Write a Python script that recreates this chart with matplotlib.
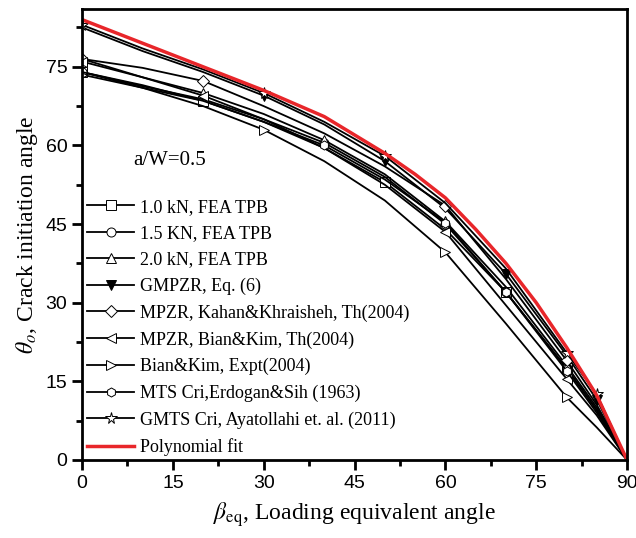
import matplotlib
matplotlib.use("Agg")
import matplotlib.pyplot as plt
from matplotlib.ticker import MultipleLocator

plt.rcParams['mathtext.fontset'] = 'stix'

# --- data ---
beta = [0, 10, 20, 30, 40, 50, 60, 70, 80, 85, 90]

theta_1kn = [74.0, 71.0, 68.5, 64.5, 59.5, 53.0, 44.0, 32.0, 17.5, 9.5, 0]
theta_15kn = [74.0, 71.3, 68.8, 65.0, 60.5, 54.0, 45.0, 32.0, 17.5, 9.5, 0]
theta_2kn = [76.5, 73.0, 70.0, 66.0, 61.0, 54.5, 45.5, 33.0, 18.0, 10.0, 0]
theta_gmpzr = [82.5, 78.0, 74.0, 69.5, 64.0, 57.0, 48.0, 35.5, 20.0, 11.5, 0]
theta_kahan = [76.5, 74.8, 72.3, 67.5, 62.3, 56.0, 48.5, 34.5, 19.0, 10.5, 0]
theta_bian_th = [76.0, 73.0, 69.5, 65.0, 59.5, 52.5, 43.5, 29.5, 15.5, 8.5, 0]
theta_bian_ex = [73.5, 71.0, 67.5, 63.0, 57.0, 49.5, 39.6, 26.0, 12.0, 6.2, 0]
theta_mts = [74.0, 71.5, 68.5, 64.5, 60.0, 53.5, 45.3, 32.0, 17.0, 9.0, 0]
theta_gmts = [83.0, 78.5, 74.5, 70.0, 64.5, 58.0, 49.0, 36.5, 20.5, 12.5, 0]

beta_fit = [0, 10, 20, 30, 40, 45, 50, 55, 60, 65, 70, 75, 80, 85, 90]
theta_fit = [84, 79.5, 75, 70.5, 65.5, 62, 58.5, 54.5, 50, 44, 37.5, 30, 21.5, 12.3, 0]

labels = ["1.0 kN, FEA TPB", "1.5 KN, FEA TPB", "2.0 kN, FEA TPB",
          "GMPZR, Eq. (6)", "MPZR, Kahan&Khraisheh, Th(2004)",
          "MPZR, Bian&Kim, Th(2004)", "Bian&Kim, Expt(2004)",
          "MTS Cri,Erdogan&Sih (1963)", "GMTS Cri, Ayatollahi et. al. (2011)",
          "Polynomial fit"]

# (values, marker, face colour, points that carry a marker)
series = [
    (theta_1kn, 's', 'white', [0, 2, 5, 7, 8]),
    (theta_15kn, 'o', 'white', [0, 4, 6, 7, 8]),
    (theta_2kn, '^', 'white', [0, 2, 4, 6, 8]),
    (theta_gmpzr, 'v', 'black', [3, 5, 7, 9]),
    (theta_kahan, 'D', 'white', [0, 2, 6, 8]),
    (theta_bian_th, '<', 'white', [0, 2, 6, 8]),
    (theta_bian_ex, '>', 'white', [0, 3, 6, 8]),
    (theta_mts, 'h', 'white', [4, 6, 7, 8]),
    (theta_gmts, '*', 'white', [0, 3, 5, 8, 9]),
]

fig = plt.figure(figsize=(6.36, 5.38), dpi=100)
ax = fig.add_axes([0.129, 0.145, 0.857, 0.838])

for (y, m, fc, every), lab in zip(series, labels[:-1]):
    ms = {'*': 8.5, 'D': 6}.get(m, 6.5)
    ax.plot(beta, y, color='black', lw=1.3, marker=m, ms=ms, markevery=every,
            mfc=fc, mec='black', mew=0.7, label=lab)

ax.plot(beta_fit, theta_fit, color='#e8262a', lw=2.5, label=labels[-1])

ax.set_xlim(0, 90)
ax.set_ylim(0, 86)
ax.xaxis.set_major_locator(MultipleLocator(15))
ax.xaxis.set_minor_locator(MultipleLocator(7.5))
ax.yaxis.set_major_locator(MultipleLocator(15))
ax.yaxis.set_minor_locator(MultipleLocator(7.5))
ax.tick_params(which='both', direction='out', top=False, right=False,
               labelsize=14, width=2)
ax.tick_params(which='major', length=7)
ax.tick_params(which='minor', length=4)
for lbl in ax.get_xticklabels() + ax.get_yticklabels():
    lbl.set_fontfamily('Liberation Sans')
for sp in ax.spines.values():
    sp.set_linewidth(2)

ax.set_xlabel(r'$\beta_{\rm eq}$, Loading equivalent angle',
              fontfamily='Liberation Serif', fontsize=17, labelpad=6)
ax.set_ylabel(r'$\theta_{o}$, Crack initiation angle',
              fontfamily='Liberation Serif', fontsize=17, labelpad=4)

ax.text(0.094, 0.665, 'a/W=0.5', transform=ax.transAxes, va='center',
        fontfamily='Liberation Serif', fontsize=15)

leg = ax.legend(loc='lower left', bbox_to_anchor=(-0.01, -0.015),
                frameon=False, numpoints=1, handlelength=2.6,
                handletextpad=0.3, labelspacing=0.52, borderaxespad=0.2,
                prop={'family': 'Liberation Serif', 'size': 13})

fig.savefig('out.png', dpi=100)
